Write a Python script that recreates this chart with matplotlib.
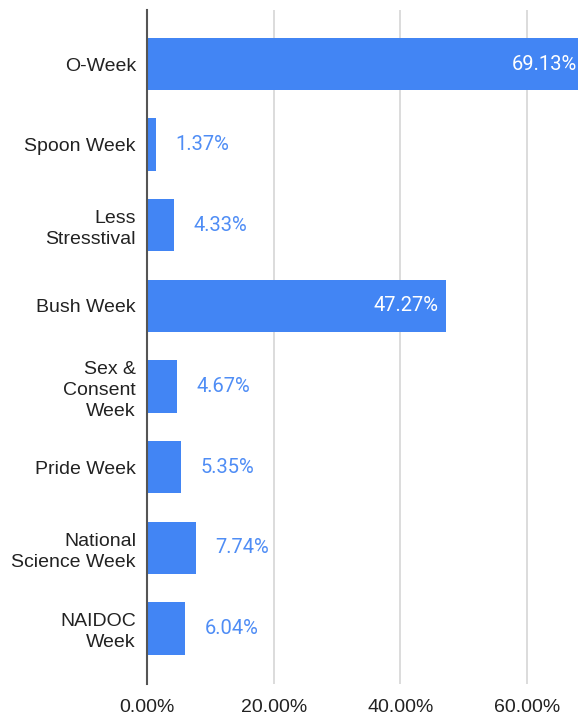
import matplotlib
matplotlib.use("Agg")
import matplotlib.pyplot as plt

categories = ["O-Week", "Spoon Week", "Less\nStresstival", "Bush Week",
              "Sex &\nConsent\nWeek", "Pride Week", "National\nScience Week", "NAIDOC\nWeek"]
values = [69.13, 1.37, 4.33, 47.27, 4.67, 5.35, 7.74, 6.04]
xticks = [0, 20, 40, 60]

BLUE = "#4285F4"
LABEL_BLUE = "#4F8DF5"
plt.rcParams["font.family"] = ["Liberation Sans", "DejaVu Sans"]

fig = plt.figure(figsize=(5.78, 7.17), dpi=100)
ax = fig.add_axes([147 / 578, 1 - 684 / 717, 1 - 147 / 578, (684 - 10) / 717])

pos = list(range(len(categories)))
bars = ax.barh(pos, values, height=0.65, color=BLUE, zorder=3)
ax.set_ylim(7.69, -0.67)
ax.set_xlim(0, 68.05)

for y, v in zip(pos, values):
    txt = f"{v:.2f}%"
    if v > 20:
        ax.annotate(txt, (v, y), xytext=(-6, 0), textcoords="offset points", ha="right",
                    va="center", color="white", fontsize=14.5, family=["Roboto", "DejaVu Sans"],
                    zorder=5, annotation_clip=False)
    else:
        ax.annotate(txt, (v, y), xytext=(14, 0), textcoords="offset points", ha="left",
                    va="center", color=LABEL_BLUE, fontsize=14.5, family=["Roboto", "DejaVu Sans"],
                    zorder=5)

ax.set_yticks(pos)
ax.set_yticklabels(categories, fontsize=14, color="#222222", linespacing=1.3, multialignment="right")
ax.set_xticks(xticks)
ax.set_xticklabels([f"{t:.2f}%" for t in xticks], fontsize=14, color="#222222")
ax.tick_params(axis="both", length=0)
ax.tick_params(axis="y", pad=8)
ax.tick_params(axis="x", pad=11)

for s in ["top", "right", "bottom"]:
    ax.spines[s].set_visible(False)
ax.spines["left"].set_color("#555555")
ax.spines["left"].set_linewidth(1.5)
ax.spines["left"].set_zorder(4)
ax.grid(axis="x", color="#d9d9d9", lw=1.3, zorder=0)
ax.set_axisbelow(True)

fig.savefig("out.png", dpi=100, facecolor="white")
